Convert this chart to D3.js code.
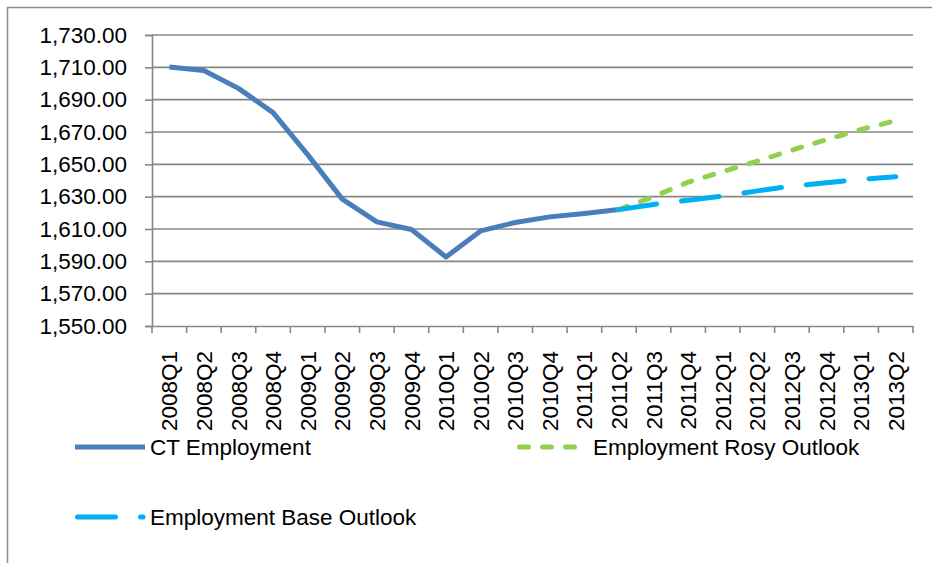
<!DOCTYPE html>
<html>
<head>
<meta charset="utf-8">
<script src="https://cdn.jsdelivr.net/npm/d3@7"></script>
<style>
  body { margin: 0; background: #fff; }
  text { font-family: "Liberation Sans", Arial, sans-serif; fill: #000; }
</style>
</head>
<body>
<div id="chart"></div>
<script>
// quarters on the x axis
var quarters = ["2008Q1","2008Q2","2008Q3","2008Q4","2009Q1","2009Q2","2009Q3","2009Q4",
  "2010Q1","2010Q2","2010Q3","2010Q4","2011Q1","2011Q2","2011Q3","2011Q4",
  "2012Q1","2012Q2","2012Q3","2012Q4","2013Q1","2013Q2"];

// actual employment, 2008Q1 .. 2011Q2
var ctEmployment = [1710.2, 1708.0, 1697.0, 1682.0, 1656.0, 1628.5, 1614.4, 1609.7,
  1592.7, 1608.8, 1614.0, 1617.5, 1619.6, 1622.0];

// outlooks, 2011Q2 .. 2013Q2
var rosyOutlook = [1622.0, 1630.0, 1639.0, 1645.5, 1652.0, 1658.8, 1665.3, 1671.6, 1677.0];
var baseOutlook = [1622.0, 1625.2, 1627.8, 1630.3, 1633.6, 1636.5, 1638.6, 1640.8, 1642.3];

var yTicks = [1550, 1570, 1590, 1610, 1630, 1650, 1670, 1690, 1710, 1730];

var W = 932, H = 563;
var margin = {left: 152, right: 19, top: 35, bottom: 237};
var fontSize = "22.5px";
var gridCol = "#878787";

var svg = d3.select("#chart").append("svg")
  .attr("width", W).attr("height", H);

// outer chart frame (runs off the right/bottom edge like the original)
svg.append("rect")
  .attr("x", 7.5).attr("y", 7.5)
  .attr("width", W).attr("height", H)
  .attr("fill", "none").attr("stroke", "#8c8c8c").attr("stroke-width", 1.5);

var x = d3.scaleBand().domain(quarters)
  .range([margin.left, W - margin.right]);
var y = d3.scaleLinear().domain([1550, 1730])
  .range([H - margin.bottom, margin.top]);

var fmt = d3.format(",.2f");

// gridlines
svg.append("g").selectAll("line")
  .data(yTicks.slice(1))
  .enter().append("line")
  .attr("x1", margin.left).attr("x2", W - margin.right)
  .attr("y1", function(d) { return y(d); })
  .attr("y2", function(d) { return y(d); })
  .attr("stroke", gridCol).attr("stroke-width", 1.6);

// y axis
var yAxis = svg.append("g")
  .attr("transform", "translate(" + margin.left + ",0)")
  .call(d3.axisLeft(y).tickValues(yTicks).tickFormat(fmt).tickSize(7).tickPadding(18));
yAxis.selectAll("text").style("font-size", fontSize).style("fill", "#000");

// x axis
var xAxis = svg.append("g")
  .attr("transform", "translate(0," + y(1550) + ")")
  .call(d3.axisBottom(x).tickSize(0));
xAxis.selectAll("text")
  .style("font-size", fontSize).style("fill", "#000")
  .attr("text-anchor", "end")
  .attr("transform", "rotate(-90)")
  .attr("x", -25).attr("y", 0).attr("dy", "0.36em");

// tick marks on band edges
var edges = quarters.map(function(q) { return x(q); }).concat([W - margin.right]);
svg.append("g").selectAll("line")
  .data(edges).enter().append("line")
  .attr("x1", function(d) { return d; }).attr("x2", function(d) { return d; })
  .attr("y1", y(1550)).attr("y2", y(1550) + 7)
  .attr("stroke", gridCol).attr("stroke-width", 1.6);

svg.selectAll(".domain").attr("stroke", gridCol).attr("stroke-width", 1.6);
yAxis.selectAll(".tick line").attr("stroke", gridCol).attr("stroke-width", 1.6);

var half = x.bandwidth() / 2;
var line = d3.line()
  .x(function(d) { return x(d.q) + half; })
  .y(function(d) { return y(d.v); });

function pts(vals, start) {
  return vals.map(function(v, i) { return {q: quarters[start + i], v: v}; });
}

var series = [
  {name: "CT Employment", data: pts(ctEmployment, 0), color: "#4A7EBB", dash: null, cap: "butt"},
  {name: "Employment Rosy Outlook", data: pts(rosyOutlook, 13), color: "#92D050", dash: "9,14", cap: "round"},
  {name: "Employment Base Outlook", data: pts(baseOutlook, 13), color: "#00B0F0", dash: "38,25", cap: "round"}
];

series.forEach(function(s) {
  svg.append("path")
    .datum(s.data)
    .attr("d", line)
    .attr("fill", "none")
    .attr("stroke", s.color)
    .attr("stroke-width", 5)
    .attr("stroke-linejoin", "round")
    .attr("stroke-linecap", s.cap)
    .attr("stroke-dasharray", s.dash);
});

// legend
var legendPos = [[75, 447], [517, 447], [75, 517]];
var legendLen = [70, 62, 68];
series.forEach(function(s, i) {
  var p = legendPos[i];
  var g = svg.append("g").attr("transform", "translate(" + p[0] + "," + p[1] + ")");
  g.append("line")
    .attr("x1", i === 0 ? 0 : 2.5).attr("x2", legendLen[i])
    .attr("y1", 0).attr("y2", 0)
    .attr("stroke", s.color).attr("stroke-width", 5)
    .attr("stroke-linecap", s.cap)
    .attr("stroke-dasharray", s.dash);
  g.append("text")
    .attr("x", i === 1 ? 76 : 75).attr("y", 0).attr("dy", "0.35em")
    .style("font-size", fontSize)
    .text(s.name);
});
</script>
</body>
</html>
